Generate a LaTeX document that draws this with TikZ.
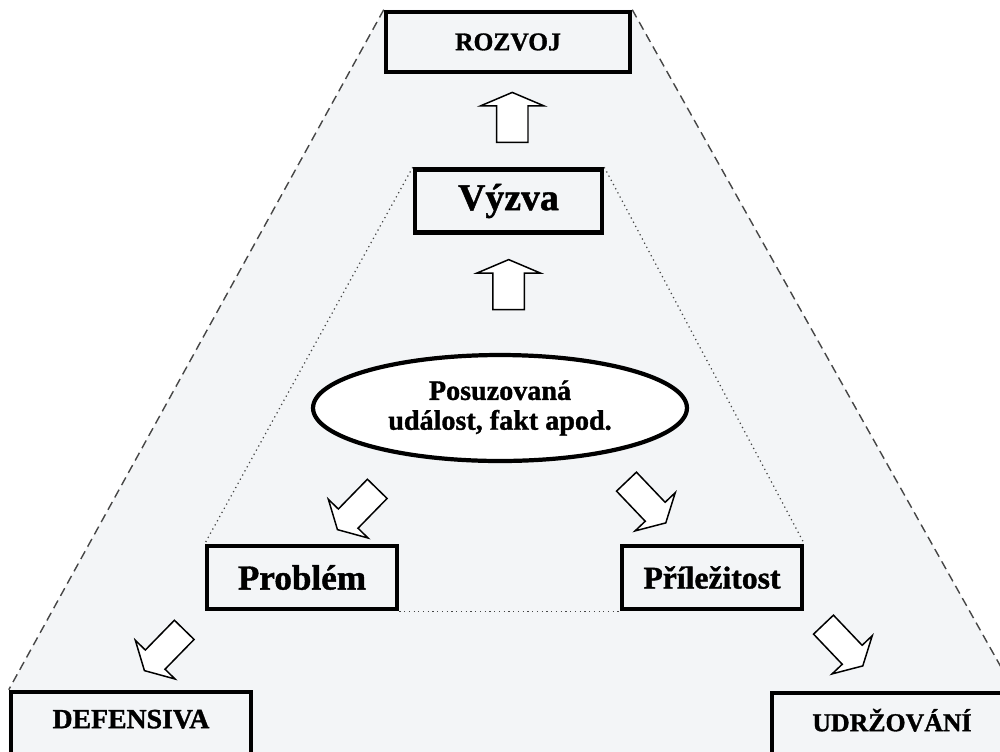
\documentclass[tikz,border=0pt]{standalone}
\usepackage{fontspec}
\setmainfont[BoldFeatures={FakeBold=1.2}]{Liberation Serif}
\usetikzlibrary{shapes.geometric,shapes.arrows,calc,backgrounds}
\definecolor{bgfill}{RGB}{243,245,247}
\definecolor{linegray}{RGB}{70,70,70}
\tikzset{
	box/.style={draw,line width=2.6pt,fill=bgfill,inner sep=0pt},
	topbox/.style={box,minimum width=4.88cm,minimum height=1.2cm,font=\bfseries\fontsize{14.5}{16}\selectfont},
	midbox/.style={box,minimum height=1.26cm,font=\bfseries\fontsize{20}{22}\selectfont},
	endbox/.style={box,minimum width=4.8cm,minimum height=1.36cm,text depth=0.28cm,font=\bfseries\fontsize{14.7}{16}\selectfont},
	event/.style={ellipse,draw,line width=2.4pt,fill=white,inner sep=0pt,minimum width=7.48cm,minimum height=2.12cm,align=center,font=\bfseries\fontsize{16}{17}\selectfont},
	bigarrow/.style={single arrow,draw,fill=white,line width=0.85pt,inner xsep=0pt,inner ysep=0.3cm,minimum height=1cm,single arrow head extend=0.32cm,single arrow tip angle=134},
	diagarrow/.style={bigarrow,minimum height=1.14cm,inner ysep=0.26cm,single arrow head extend=0.28cm,single arrow tip angle=122},
	outerline/.style={linegray,line width=0.8pt,dash pattern=on 5pt off 3pt},
	innerline/.style={linegray,line width=0.7pt,dotted}
}
\begin{document}
\begin{tikzpicture}[x=0.02cm,y=-0.02cm]
	\useasboundingbox (0,0) rectangle (1000,751);
	\node[topbox] (rozvoj) at (508,42) {ROZVOJ};
	\node[midbox,minimum width=3.74cm,font=\bfseries\fontsize{21.5}{23}\selectfont] (vyzva) at (508.5,201) {Výzva};
	\node[event] (udalost) at (500,408) {Posuzovaná\\událost, fakt apod.};
	\node[midbox,minimum width=3.8cm] (problem) at (302,577.5) {Problém};
	\node[midbox,minimum width=3.6cm,font=\bfseries\fontsize{18}{20}\selectfont] (prilezitost) at (712,577.5) {Příležitost};
	\node[endbox,font=\bfseries\fontsize{15.8}{17}\selectfont] (defensiva) at (131,726) {DEFENSIVA};
	\node[endbox] (udrzovani) at (892,727) {UDRŽOVÁNÍ};
	\node[bigarrow,rotate=90] (sipka1) at ($(rozvoj.south)!0.5!(vyzva.north)+(4,0)$) {};
	\node[bigarrow,rotate=90] (sipka2) at ($(vyzva.south)!0.45!(udalost.north)+(4,0)$) {};
	\node[diagarrow,rotate=225.7] (sipka3) at (360,506.5) {};
	\node[diagarrow,rotate=-46.4] (sipka4) at (643.5,499.5) {};
	\node[diagarrow,rotate=225.7] (sipka5) at (167,647.5) {};
	\node[diagarrow,rotate=-46.4] (sipka6) at (840.5,642.5) {};
	\begin{scope}[on background layer]
		\fill[bgfill] (rozvoj.north west)--(rozvoj.north east)--(udrzovani.north east)--(udrzovani.south east)--(defensiva.south west)--(defensiva.north west)--cycle;
		\draw[outerline] (rozvoj.north west)--(defensiva.north west);
		\draw[outerline] (rozvoj.north east)--(udrzovani.north east);
		\draw[innerline] (vyzva.north west)--(problem.north west);
		\draw[innerline] (vyzva.north east)--(prilezitost.north east);
		\draw[innerline] (problem.south east)--(prilezitost.south west);
	\end{scope}
\end{tikzpicture}
\end{document}
